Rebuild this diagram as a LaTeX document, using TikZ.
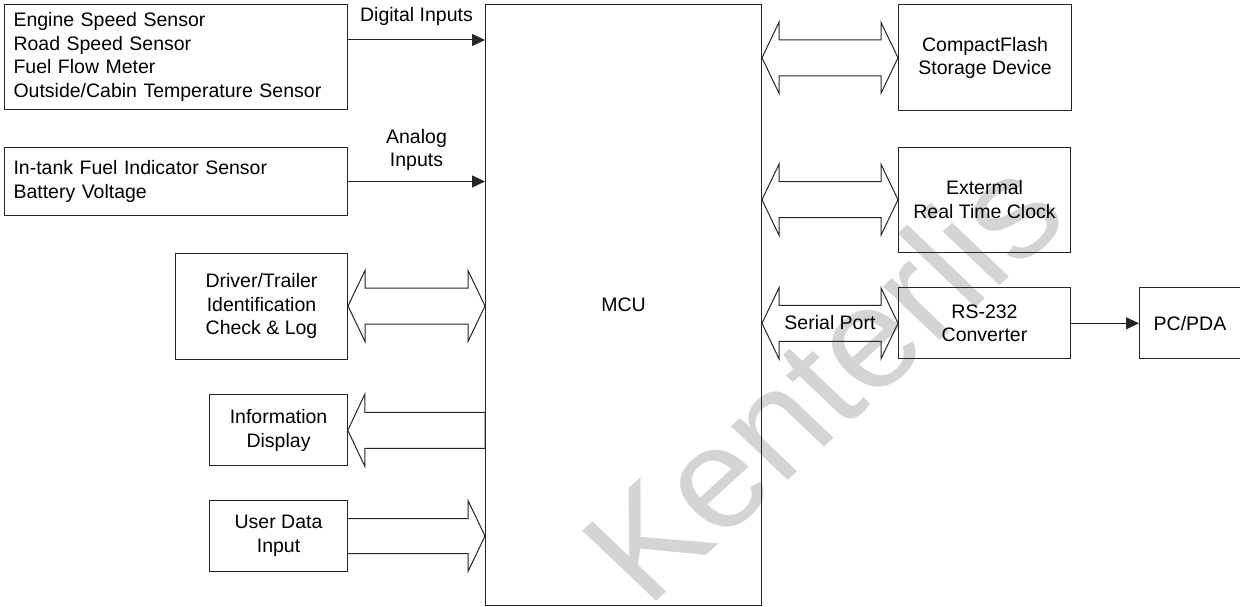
\documentclass[tikz,border=0pt]{standalone}
\usepackage{fontspec}
\setmainfont{Liberation Sans}
\usetikzlibrary{calc,arrows.meta}
\newcommand{\dblarr}[2]{%
  \draw[barrow] (#1) -- ++(17,-35.5) -- ++(0,17.5) -- ($(#2)+(-17,-18)$) -- ++(0,-17.5) -- (#2)
    -- ++(-17,35.5) -- ++(0,-17.5) -- ($(#1)+(17,18)$) -- ++(0,17.5) -- cycle;}
\begin{document}
\begin{tikzpicture}[x=1pt,y=-1pt,
  box/.style={draw=black!85, line width=1pt, inner sep=0pt, anchor=north west,
    align=center, font=\fontsize{19.5}{23.5}\selectfont},
  lbl/.style={inner sep=0pt, align=center, font=\fontsize{19.5}{23.5}\selectfont},
  barrow/.style={draw=black!85, line width=1pt, line join=miter},
  arr/.style={draw=black!85, line width=1pt, -{Triangle[length=13pt,width=12pt]}},
  wmark/.style={text=black!17, inner sep=0pt, font=\fontsize{143}{143}\selectfont}]
\useasboundingbox (0,0) rectangle (1240,607);
% watermark
\begin{scope}[shift={(647,610)}]
  \node[wmark, xscale=1.07, rotate=44.5, anchor=base west] (wm) at (0,0) {Kenterlis};
\end{scope}
% boxes
\node[box, minimum width=343, minimum height=105, text width=325, inner xsep=9pt, align=left] (sens) at (4,4)
  {Engine Speed Sensor\\Road Speed Sensor\\Fuel Flow Meter\\Outside/Cabin Temperature Sensor};
\node[box, minimum width=343, minimum height=68, text width=325, inner xsep=9pt, align=left] (anl) at (4,147)
  {In-tank Fuel Indicator Sensor\\Battery Voltage};
\node[box, minimum width=172, minimum height=106] (drv) at (175,252.5)
  {Driver/Trailer\\Identification\\Check \& Log};
\node[box, minimum width=137.5, minimum height=71] (disp) at (209.3,394.3)
  {Information\\Display};
\node[box, minimum width=137.5, minimum height=71] (ud) at (209.3,500)
  {User Data\\Input};
\node[box, minimum width=276, minimum height=601] (mcu) at (485,4) {MCU};
\node[box, minimum width=173, minimum height=106] (cf) at (898,4.3)
  {CompactFlash\\Storage Device};
\node[box, minimum width=172, minimum height=105] (rtc) at (898,146.7)
  {Extermal\\Real Time Clock};
\node[box, minimum width=172, minimum height=71] (rs) at (898,287.3)
  {RS-232\\Converter};
\node[box, minimum width=101, minimum height=71] (pc) at (1139,287.3) {PC/PDA};
% digital / analog inputs
\coordinate (di1) at ($(sens.north east)+(0,36)$);
\coordinate (di2) at (di1 -| mcu.west);
\draw[arr] (di1) -- node[lbl, midway, above=14pt] {Digital Inputs} (di2);
\coordinate (ai2) at (anl.east -| mcu.west);
\draw[arr] (anl.east) -- node[lbl, midway, above=10pt] {Analog\\Inputs} (ai2);
% left bus arrows
\coordinate (dr2) at (drv.east -| mcu.west);
\dblarr{drv.east}{dr2}
\coordinate (dt) at (disp.east);
\coordinate (dm) at (disp.east -| mcu.west);
\draw[barrow] (dt) -- ++(17,-36) -- ++(0,18) -- ($(dm)+(0,-18)$) -- ($(dm)+(0,18)$)
  -- ($(dt)+(17,18)$) -- ++(0,18) -- cycle;
\coordinate (ut) at (ud.east -| mcu.west);
\draw[barrow] ($(ud.east)+(0,-17.5)$) -- ($(ut)+(-17,-17.5)$) -- ++(0,-18) -- (ut)
  -- ++(-17,35.5) -- ++(0,-18) -- ($(ud.east)+(0,17.5)$);
% right bus arrows
\coordinate (cf1) at (cf.west -| mcu.east);
\dblarr{cf1}{cf.west}
\coordinate (rt1) at (rtc.west -| mcu.east);
\dblarr{rt1}{rtc.west}
\coordinate (rs1) at (rs.west -| mcu.east);
\dblarr{rs1}{rs.west}
\node[lbl] (sp) at ($(rs1)!0.5!(rs.west)+(0,-1)$) {Serial Port};
\draw[arr] (rs.east) -- (pc.west);
\end{tikzpicture}
\end{document}
